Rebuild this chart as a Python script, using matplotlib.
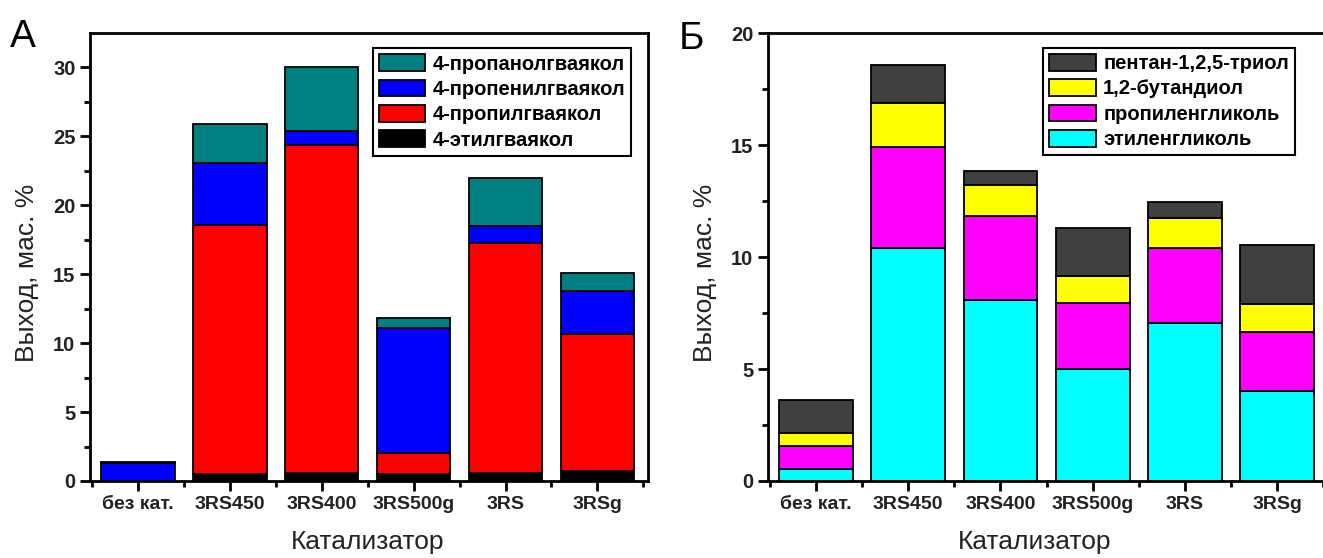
import matplotlib
matplotlib.use("Agg")
import matplotlib.pyplot as plt
import numpy as np

plt.rcParams['font.family'] = ['Liberation Sans', 'DejaVu Sans']

catalysts = ["без кат.", "3RS450", "3RS400", "3RS500g", "3RS", "3RSg"]

# panel A - guaiacols, wt.%
ethyl = [0.0, 0.5, 0.6, 0.5, 0.6, 0.7]
propyl = [0.0, 18.1, 23.8, 1.5, 16.7, 10.0]
propenyl = [1.3, 4.5, 1.0, 9.1, 1.2, 3.1]
propanol = [0.05, 2.8, 4.6, 0.7, 3.5, 1.3]

# panel B - polyols, wt.%
ethylene_glycol = [0.55, 10.4, 8.1, 5.0, 7.05, 4.0]
propylene_glycol = [1.0, 4.5, 3.75, 2.95, 3.35, 2.65]
butanediol = [0.6, 2.0, 1.35, 1.2, 1.35, 1.25]
pentanetriol = [1.45, 1.7, 0.65, 2.15, 0.7, 2.65]

series_a = [(ethyl, "4-этилгваякол", "#000000"),
            (propyl, "4-пропилгваякол", "#ff0000"),
            (propenyl, "4-пропенилгваякол", "#0000ff"),
            (propanol, "4-пропанолгваякол", "#008080")]
series_b = [(ethylene_glycol, "этиленгликоль", "#00ffff"),
            (propylene_glycol, "пропиленгликоль", "#ff00ff"),
            (butanediol, "1,2-бутандиол", "#ffff00"),
            (pentanetriol, "пентан-1,2,5-триол", "#404040")]


def stacked(ax, series, ymax, major, legend_anchor):
    x = np.arange(len(catalysts))
    bottom = np.zeros(len(catalysts))
    handles = []
    for vals, name, color in series:
        h = ax.bar(x, vals, 0.8, bottom=bottom, color=color, edgecolor="black",
                   linewidth=1.3, label=name)
        bottom += np.array(vals)
        handles.append(h)
    ax.set_xlim(-0.52, 5.55)
    ax.set_ylim(0, ymax)
    ax.set_xticks(x)
    ax.set_xticklabels(catalysts, fontsize=14, fontweight="bold", color="#222222")
    ax.set_xticks(np.arange(-0.5, 6, 1), minor=True)
    ax.set_yticks(np.arange(0, ymax, major))
    ax.set_yticks(np.arange(0, ymax, major / 2), minor=True)
    for lab in ax.get_yticklabels():
        lab.set_fontsize(14.5)
        lab.set_fontweight("bold")
        lab.set_color("#222222")
    ax.tick_params(which="major", direction="out", length=7, width=2)
    ax.tick_params(which="minor", direction="out", length=4, width=2)
    for sp in ax.spines.values():
        sp.set_linewidth(2)
    ax.set_ylabel("Выход, мас. %", fontsize=19, color="#222222")
    ax.set_xlabel("Катализатор", fontsize=19, color="#222222")
    leg = ax.legend(handles[::-1], [s[1] for s in series][::-1], loc="upper right",
                    bbox_to_anchor=legend_anchor, fancybox=False, framealpha=1,
                    edgecolor="black", handlelength=2.3, handleheight=0.9,
                    borderpad=0.3, labelspacing=0.3, handletextpad=0.37,
                    prop={"size": 14.5, "weight": "bold"}, borderaxespad=0)
    leg.get_frame().set_linewidth(1.5)


fig = plt.figure(figsize=(13.23, 5.58), dpi=100)

axA = fig.add_axes([90 / 1323, 1 - 481 / 558, 558 / 1323, 448 / 558])
stacked(axA, series_a, 32.5, 5, (0.97, 0.966))
axA.yaxis.set_label_coords(-0.091, 0.465)
axA.xaxis.set_label_coords(0.497, -0.109)

axB = fig.add_axes([768 / 1323, 1 - 481 / 558, 560 / 1323, 448 / 558])
stacked(axB, series_b, 20.01, 5, (0.941, 0.967))
axB.yaxis.set_label_coords(-0.091, 0.465)
axB.xaxis.set_label_coords(0.477, -0.109)

fig.text(10 / 1323, 1 - 47 / 558, "А", fontsize=28)
fig.text(679 / 1323, 1 - 49 / 558, "Б", fontsize=28)

fig.savefig("out.png", dpi=100)
